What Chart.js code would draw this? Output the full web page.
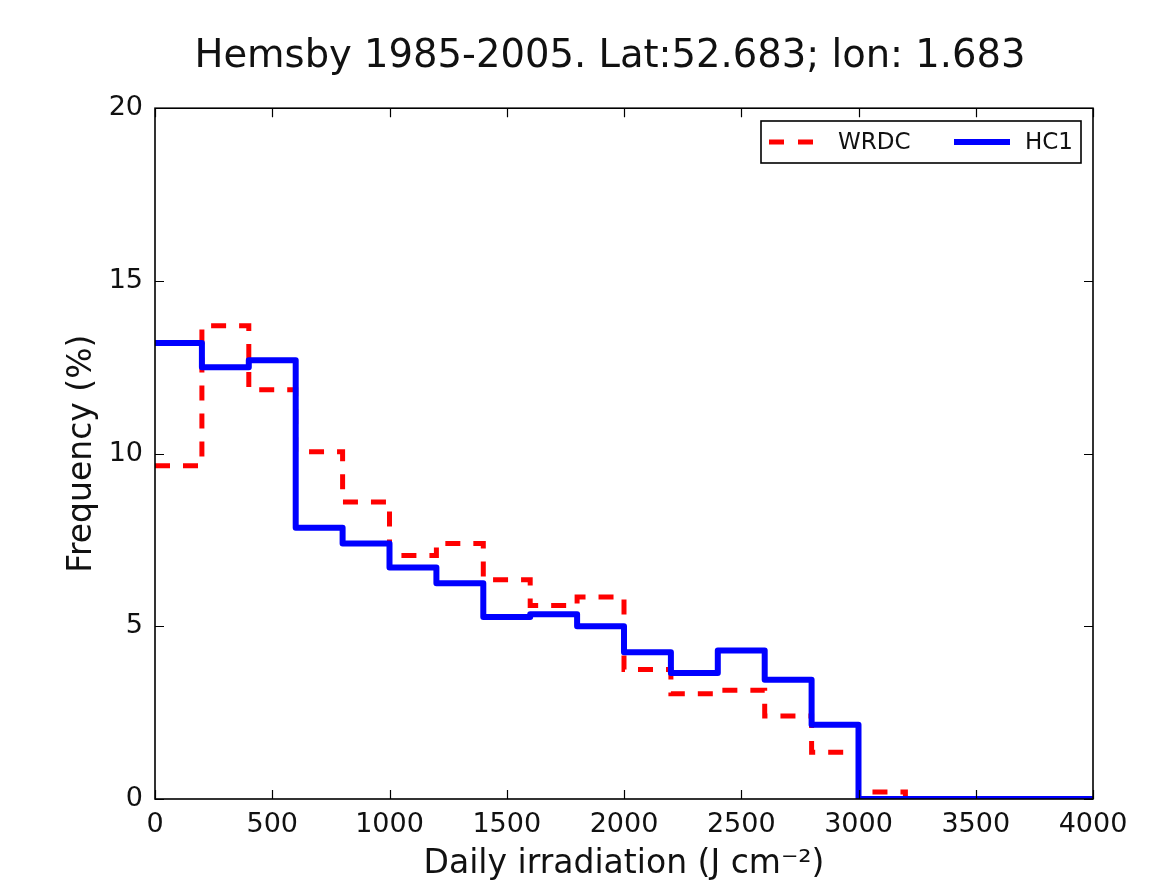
<!DOCTYPE html>
<html>
<head>
<meta charset="utf-8">
<script src="https://cdn.jsdelivr.net/npm/chart.js@4.4.1/dist/chart.umd.min.js"></script>
<style>
  html, body { margin: 0; padding: 0; background: #fff; }
  #wrap { width: 1159px; height: 884px; position: relative; }
</style>
</head>
<body>
<div id="wrap"><canvas id="histChart"></canvas></div>
<script>
// bin edges (J cm-2) and frequencies (%) per 200-wide bin
const EDGES = [0, 200, 400, 600, 800, 1000, 1200, 1400, 1600, 1800, 2000,
               2200, 2400, 2600, 2800, 3000, 3200, 3400, 3600, 3800, 4000];
const WRDC = [9.65, 13.7, 11.85, 10.05, 8.6, 7.05, 7.4, 6.35, 5.6, 5.85,
              3.75, 3.05, 3.15, 2.4, 1.35, 0.2, 0, 0, 0, 0];
const HC1  = [13.2, 12.5, 12.7, 7.85, 7.4, 6.7, 6.25, 5.27, 5.35, 5.0,
              4.25, 3.65, 4.3, 3.45, 2.15, 0, 0, 0, 0, 0];
const X_TICKS = [0, 500, 1000, 1500, 2000, 2500, 3000, 3500, 4000];
const Y_TICKS = [0, 5, 10, 15, 20];

const FONT = "'DejaVu Sans', sans-serif";

function toSteps(vals) {
  const pts = vals.map((v, i) => ({ x: EDGES[i], y: v }));
  pts.push({ x: EDGES[EDGES.length - 1], y: vals[vals.length - 1] });
  return pts;
}

// frame, inward ticks and legend box drawn like matplotlib classic
const framePlugin = {
  id: 'frame',
  afterLayout(chart) {
    // title sits a little left of the plot centre
    if (chart.titleBlock) chart.titleBlock.left -= 28;
  },
  afterDraw(chart) {
    const { ctx, chartArea: a, scales } = chart;
    ctx.save();
    ctx.strokeStyle = '#000';
    ctx.lineWidth = 1.2;
    const tl = 9;
    X_TICKS.forEach(t => {
      const px = Math.round(scales.x.getPixelForValue(t)) + 0.5;
      ctx.beginPath();
      ctx.moveTo(px, a.bottom); ctx.lineTo(px, a.bottom - tl);
      ctx.moveTo(px, a.top); ctx.lineTo(px, a.top + tl);
      ctx.stroke();
    });
    Y_TICKS.forEach(t => {
      const py = Math.round(scales.y.getPixelForValue(t)) + 0.5;
      ctx.beginPath();
      ctx.moveTo(a.left, py); ctx.lineTo(a.left + tl, py);
      ctx.moveTo(a.right, py); ctx.lineTo(a.right - tl, py);
      ctx.stroke();
    });
    ctx.lineWidth = 1.6;
    ctx.strokeRect(a.left, a.top, a.right - a.left, a.bottom - a.top);

    // legend
    const lx = 761, ly = 121, lw = 320, lh = 42;
    ctx.fillStyle = '#fff';
    ctx.fillRect(lx, ly, lw, lh);
    ctx.lineWidth = 1.6;
    ctx.strokeStyle = '#000';
    ctx.strokeRect(lx, ly, lw, lh);
    const my = ly + lh / 2;
    ctx.strokeStyle = '#ff0000';
    ctx.lineWidth = 5;
    ctx.setLineDash([15, 14]);
    ctx.beginPath(); ctx.moveTo(769, my); ctx.lineTo(813, my); ctx.stroke();
    ctx.setLineDash([]);
    ctx.strokeStyle = '#0000ff';
    ctx.lineWidth = 6;
    ctx.beginPath(); ctx.moveTo(954, my); ctx.lineTo(1010, my); ctx.stroke();
    ctx.fillStyle = '#111';
    ctx.font = '23px ' + FONT;
    ctx.textBaseline = 'middle';
    ctx.fillText('WRDC', 838, my + 1);
    ctx.fillText('HC1', 1025, my + 1);
    ctx.restore();
  }
};

new Chart(document.getElementById('histChart'), {
  type: 'line',
  data: {
    datasets: [
      {
        label: 'WRDC',
        data: toSteps(WRDC),
        stepped: 'before',
        borderColor: '#ff0000',
        borderWidth: 5,
        borderDash: [15, 13],
        pointRadius: 0,
        fill: false,
        clip: 0,
        order: 2
      },
      {
        label: 'HC1',
        data: toSteps(HC1),
        stepped: 'before',
        borderColor: '#0000ff',
        borderWidth: 6,
        borderJoinStyle: 'round',
        pointRadius: 0,
        fill: false,
        clip: 0,
        order: 1
      }
    ]
  },
  options: {
    responsive: true,
    maintainAspectRatio: false,
    animation: false,
    layout: { padding: { left: 0, right: 66, top: 0, bottom: 0 } },
    plugins: {
      legend: { display: false },
      tooltip: { enabled: false },
      title: {
        display: true,
        fullSize: false,
        text: 'Hemsby 1985-2005. Lat:52.683; lon: 1.683',
        color: '#111',
        font: { family: FONT, size: 38.5, weight: 'normal', lineHeight: 1.2 },
        padding: { top: 34, bottom: 28 }
      }
    },
    scales: {
      x: {
        type: 'linear',
        min: 0, max: 4000,
        afterFit: s => { s.height = 85; },
        afterBuildTicks: s => { s.ticks = X_TICKS.map(v => ({ value: v })); },
        grid: { display: false, drawTicks: false },
        border: { display: false },
        ticks: {
          color: '#111', padding: 10, maxRotation: 0,
          font: { family: FONT, size: 27 },
          callback: v => String(v)
        },
        title: {
          display: true,
          text: 'Daily irradiation (J cm\u207B\u00B2)',
          color: '#111',
          font: { family: FONT, size: 33, lineHeight: 1.2 },
          padding: { top: 0, bottom: 0 }
        }
      },
      y: {
        min: 0, max: 20,
        afterFit: s => { s.width = 155; },
        afterBuildTicks: s => { s.ticks = Y_TICKS.map(v => ({ value: v })); },
        grid: { display: false, drawTicks: false },
        border: { display: false },
        ticks: { color: '#111', padding: 12, font: { family: FONT, size: 27 } },
        title: {
          display: true,
          text: 'Frequency (%)',
          color: '#111',
          font: { family: FONT, size: 33, lineHeight: 1.2 },
          padding: { top: 63, bottom: 0 }
        }
      }
    }
  },
  plugins: [framePlugin]
});
</script>
</body>
</html>
